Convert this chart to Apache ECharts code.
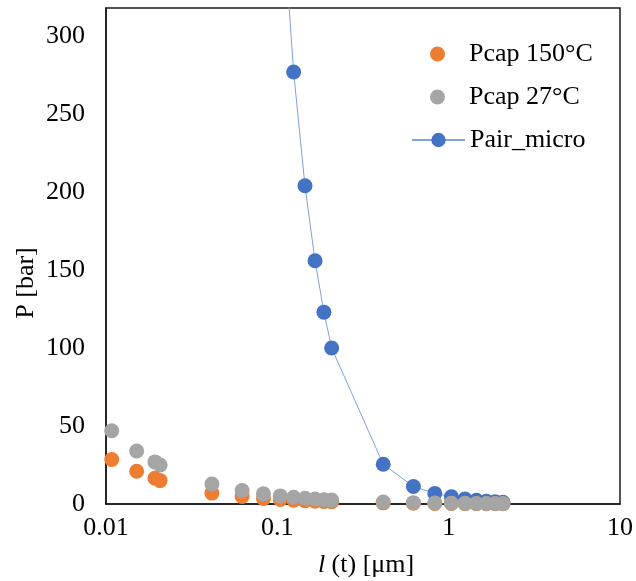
<!DOCTYPE html>
<html>
<head>
<meta charset="utf-8">
<script src="https://cdn.jsdelivr.net/npm/echarts@6/dist/echarts.min.js"></script>
<style>
  html, body { margin: 0; padding: 0; background: #fff; }
  #chart { width: 636px; height: 581px; }
</style>
</head>
<body>
<div id="chart"></div>
<script>
// Film thickness l(t) in µm (shared by both capillary-pressure series)
const thickness = [0.0108, 0.0151, 0.0193, 0.0207, 0.0415, 0.0623, 0.083, 0.104,
  0.1245, 0.145, 0.166, 0.187, 0.2075, 0.415, 0.6225, 0.83, 1.0375, 1.245,
  1.4525, 1.66, 1.8675, 2.075];

// Capillary pressure at 150 °C [bar]
const pcap150 = [28.5, 21, 16.5, 15, 7, 4.8, 3.6, 2.9, 2.4, 2.1, 1.8, 1.6, 1.5,
  0.75, 0.5, 0.38, 0.3, 0.25, 0.21, 0.19, 0.17, 0.15];

// Capillary pressure at 27 °C [bar]
const pcap27 = [47, 34, 27, 25, 12.8, 8.6, 6.5, 5.2, 4.3, 3.7, 3.2, 2.8, 2.5,
  1.3, 0.85, 0.65, 0.5, 0.42, 0.36, 0.32, 0.28, 0.25];

// Micro air-pocket pressure [bar] (starts at l = 0.104 µm)
const pairThickness = [0.104, 0.1245, 0.145, 0.166, 0.187, 0.2075, 0.415, 0.6225,
  0.83, 1.0375, 1.245, 1.4525, 1.66, 1.8675, 2.075];
const pairMicro = [400, 277, 204, 156, 123, 100, 25.5, 11.2, 6.8, 4.6, 3.2, 2.4,
  1.8, 1.4, 1.1];

const seriesNames = ['Pcap 150°C', 'Pcap 27°C', 'Pair_micro'];
const xTicks = [0.01, 0.1, 1, 10];
const yTicks = [0, 50, 100, 150, 200, 250, 300];

const FONT = '"Liberation Serif", "Times New Roman", serif';
const zip = (xs, ys) => xs.map((x, i) => [x, ys[i]]);

const legendText = { fontFamily: FONT, fontSize: 26, color: '#000' };

const chart = echarts.init(document.getElementById('chart'), null, { renderer: 'canvas' });

chart.setOption({
  animation: false,
  backgroundColor: '#ffffff',
  textStyle: { fontFamily: FONT, color: '#000' },
  grid: {
    left: 106, top: 8, right: 14, bottom: 77,
    show: true, borderColor: '#1a1a1a', borderWidth: 1.5,
    containLabel: false
  },
  legend: [
    {
      // scatter entries: plain dots
      data: [seriesNames[0], seriesNames[1]],
      orient: 'vertical',
      left: 430, top: 41, padding: 0,
      itemWidth: 53, itemHeight: 15, itemGap: 17,
      textStyle: legendText
    },
    {
      // line entry: line with a dot (dot is 80% of itemHeight)
      data: [seriesNames[2]],
      orient: 'vertical',
      left: 411, top: 127, padding: 0,
      itemWidth: 53, itemHeight: 18,
      textStyle: legendText
    }
  ],
  xAxis: {
    type: 'log',
    logBase: 10,
    min: xTicks[0],
    max: xTicks[xTicks.length - 1],
    axisLine: { show: true, lineStyle: { color: '#1a1a1a', width: 1.5 } },
    axisTick: { show: false },
    splitLine: { show: false },
    axisLabel: {
      fontFamily: FONT, fontSize: 26, color: '#000', margin: 11,
      formatter: v => String(Number(v.toPrecision(3)))
    }
  },
  yAxis: {
    type: 'value',
    min: yTicks[0],
    max: 318,
    interval: 50,
    axisLine: { show: true, lineStyle: { color: '#1a1a1a', width: 1.5 } },
    axisTick: { show: false },
    splitLine: { show: false },
    axisLabel: {
      fontFamily: FONT, fontSize: 26, color: '#000', margin: 21,
      showMaxLabel: false
    }
  },
  series: [
    {
      name: seriesNames[2],
      type: 'line',
      data: zip(pairThickness, pairMicro),
      symbol: 'circle',
      symbolSize: 15,
      itemStyle: { color: '#4472C4' },
      lineStyle: { color: '#7EA2DE', width: 1 },
      clip: true,
      z: 2
    },
    {
      name: seriesNames[0],
      type: 'scatter',
      data: zip(thickness, pcap150),
      symbol: 'circle',
      symbolSize: 15,
      itemStyle: { color: '#ED7D31', opacity: 1 },
      z: 3
    },
    {
      name: seriesNames[1],
      type: 'scatter',
      data: zip(thickness, pcap27),
      symbol: 'circle',
      symbolSize: 15,
      itemStyle: { color: '#A5A5A5', opacity: 1 },
      z: 4
    }
  ],
  graphic: [
    {
      type: 'text',
      x: 26, y: 283,
      rotation: Math.PI / 2,
      style: {
        text: 'P [bar]',
        font: '26px ' + FONT,
        fill: '#000',
        align: 'center',
        verticalAlign: 'middle'
      }
    },
    {
      type: 'text',
      x: 366, y: 565,
      style: {
        text: '{i|l} (t) [μm]',
        align: 'center',
        verticalAlign: 'middle',
        font: '26px ' + FONT,
        fill: '#000',
        rich: {
          i: { fontStyle: 'italic', fontFamily: FONT, fontSize: 26, fill: '#000' }
        }
      }
    }
  ]
});
</script>
</body>
</html>
